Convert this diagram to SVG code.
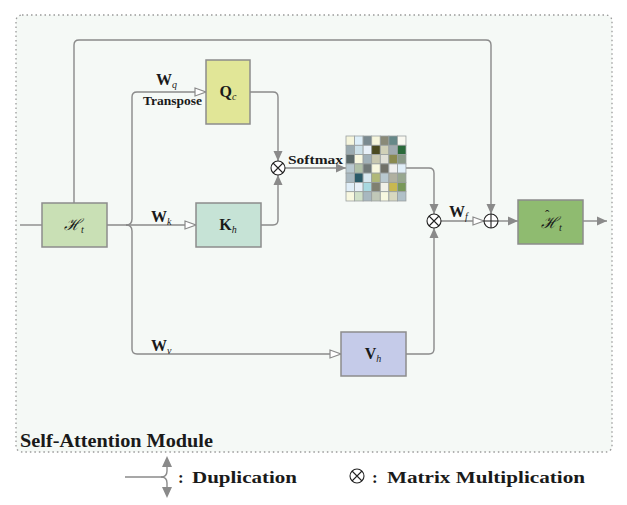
<svg xmlns="http://www.w3.org/2000/svg" width="627" height="505" viewBox="0 0 627 505">
<style>
.box{stroke:#8c8c8c;stroke-width:1.5}
.ln{fill:none;stroke:#8a8a8a;stroke-width:1.4}
.t{font-family:"Liberation Serif","DejaVu Serif",serif;fill:#1a1a1a}
.b{font-weight:bold}
.i{font-style:italic;font-weight:normal}
.cell{stroke:#9aa0a0;stroke-width:0.8}
</style>
<defs>
<marker id="fa" markerUnits="userSpaceOnUse" markerWidth="12" markerHeight="10" refX="10" refY="5" orient="auto">
<path d="M0,0.5 L10,5 L0,9.5 Z" fill="#8a8a8a"/>
</marker>
<marker id="oa" markerUnits="userSpaceOnUse" markerWidth="14" markerHeight="10" refX="12" refY="5" orient="auto">
<path d="M1,1 L12,5 L1,9 Z" fill="#fff" stroke="#8a8a8a" stroke-width="1.2"/>
</marker>
</defs>
<rect x="16" y="15" width="596" height="437" rx="6" fill="#f5f9f6" stroke="#9a9a9a" stroke-width="1.3" stroke-dasharray="1.5,3"/>
<text class="t b" x="20" y="447" font-size="19" textLength="193" lengthAdjust="spacingAndGlyphs">Self-Attention Module</text>

<g id="connectors">
<path class="ln" d="M20,225 H42"/>
<path class="ln" d="M107,225 H196" marker-end="url(#oa)"/>
<path class="ln" d="M126,225 Q132,225 132,219 V97 Q132,92 137,92 H206" marker-end="url(#oa)"/>
<path class="ln" d="M126,225 Q132,225 132,231 V349 Q132,354 137,354 H341" marker-end="url(#oa)"/>
<path class="ln" d="M250,92 H273 Q278,92 278,97 V161" marker-end="url(#fa)"/>
<path class="ln" d="M261,225 H273 Q278,225 278,220 V175" marker-end="url(#fa)"/>
<path class="ln" d="M285,168 H346" marker-end="url(#fa)"/>
<path class="ln" d="M406,168 H429 Q434,168 434,173 V214" marker-end="url(#fa)"/>
<path class="ln" d="M406,354 H429 Q434,354 434,349 V228" marker-end="url(#fa)"/>
<path class="ln" d="M441,221 H484" marker-end="url(#oa)"/>
<path class="ln" d="M74,203 V45 Q74,40 79,40 H486 Q491,40 491,45 V214" marker-end="url(#fa)"/>
<path class="ln" d="M498,221 H518" marker-end="url(#fa)"/>
<path class="ln" d="M583,221 H607" marker-end="url(#fa)"/>
</g>

<g id="labels">
<text class="t b" x="156" y="85" font-size="16">W<tspan class="i" font-size="10" dy="3">q</tspan></text>
<text class="t b" x="143" y="105" font-size="12" textLength="59" lengthAdjust="spacingAndGlyphs">Transpose</text>
<text class="t b" x="151" y="222" font-size="16">W<tspan class="i" font-size="10" dy="3">k</tspan></text>
<text class="t b" x="151" y="351" font-size="16">W<tspan class="i" font-size="10" dy="3">v</tspan></text>
<text class="t b" x="449" y="217" font-size="16">W<tspan class="i" font-size="10" dy="3">f</tspan></text>
<text class="t b" x="288" y="164" font-size="13" textLength="55" lengthAdjust="spacingAndGlyphs">Softmax</text>
</g>

<g id="Ht">
<rect class="box" x="42" y="203" width="65" height="44" fill="#c9e0b5"/>
<text class="t i" x="74" y="230" font-size="16" text-anchor="middle">ℋ<tspan font-size="10" dy="3">t</tspan></text>
</g>
<g id="Qc">
<rect class="box" x="206" y="60" width="44" height="64" fill="#e1e697"/>
<text class="t b" x="228" y="97" font-size="16" text-anchor="middle">Q<tspan class="i" font-size="10" dy="3">c</tspan></text>
</g>
<g id="Kh">
<rect class="box" x="196" y="203" width="65" height="44" fill="#c6e3d6"/>
<text class="t b" x="228" y="230" font-size="16" text-anchor="middle">K<tspan class="i" font-size="10" dy="3">h</tspan></text>
</g>
<g id="Vh">
<rect class="box" x="341" y="332" width="65" height="44" fill="#c5cbe9"/>
<text class="t b" x="373" y="359" font-size="16" text-anchor="middle">V<tspan class="i" font-size="10" dy="3">h</tspan></text>
</g>
<g id="Hhat">
<rect class="box" x="518" y="200" width="65" height="44" fill="#8fbb70"/>
<text class="t i" font-size="16"><tspan x="541" y="228">ℋ</tspan><tspan x="545" y="219" font-style="normal" font-size="13">ˆ</tspan><tspan x="559" y="231" font-size="10">t</tspan></text>
</g>

<g id="mul1">
<circle cx="278" cy="168" r="7" fill="#fff" stroke="#222" stroke-width="1.1"/>
<path d="M273,163 L283,173 M283,163 L273,173" stroke="#222" stroke-width="1.1"/>
</g>
<g id="mul2">
<circle cx="434" cy="221" r="7" fill="#fff" stroke="#222" stroke-width="1.1"/>
<path d="M429,216 L439,226 M439,216 L429,226" stroke="#222" stroke-width="1.1"/>
</g>
<g id="add">
<circle cx="491" cy="221" r="7" fill="#fff" stroke="#222" stroke-width="1.1"/>
<path d="M484,221 H498 M491,214 V228" stroke="#222" stroke-width="1.1"/>
</g>

<g id="matrix">
<rect x="346" y="136" width="60" height="65" fill="#9aa0a0"/>
<g class="cell">
<rect x="346.0" y="136.0" width="8.57" height="9.29" fill="#f5f5dc"/><rect x="354.6" y="136.0" width="8.57" height="9.29" fill="#ddeef8"/><rect x="363.1" y="136.0" width="8.57" height="9.29" fill="#7a8a90"/><rect x="371.7" y="136.0" width="8.57" height="9.29" fill="#f5f5dc"/><rect x="380.3" y="136.0" width="8.57" height="9.29" fill="#8a8a78"/><rect x="388.9" y="136.0" width="8.57" height="9.29" fill="#668888"/><rect x="397.4" y="136.0" width="8.57" height="9.29" fill="#f8f8f0"/>
<rect x="346.0" y="145.3" width="8.57" height="9.29" fill="#9aaab0"/><rect x="354.6" y="145.3" width="8.57" height="9.29" fill="#cce0e8"/><rect x="363.1" y="145.3" width="8.57" height="9.29" fill="#e8f0f8"/><rect x="371.7" y="145.3" width="8.57" height="9.29" fill="#4a4a20"/><rect x="380.3" y="145.3" width="8.57" height="9.29" fill="#d0d0b8"/><rect x="388.9" y="145.3" width="8.57" height="9.29" fill="#a0aab0"/><rect x="397.4" y="145.3" width="8.57" height="9.29" fill="#2a6a3a"/>
<rect x="346.0" y="154.6" width="8.57" height="9.29" fill="#5a6868"/><rect x="354.6" y="154.6" width="8.57" height="9.29" fill="#f8f8e0"/><rect x="363.1" y="154.6" width="8.57" height="9.29" fill="#a0b0b8"/><rect x="371.7" y="154.6" width="8.57" height="9.29" fill="#c8c8b0"/><rect x="380.3" y="154.6" width="8.57" height="9.29" fill="#e0e0d8"/><rect x="388.9" y="154.6" width="8.57" height="9.29" fill="#8a8a50"/><rect x="397.4" y="154.6" width="8.57" height="9.29" fill="#8a9a88"/>
<rect x="346.0" y="163.9" width="8.57" height="9.29" fill="#b8c8d0"/><rect x="354.6" y="163.9" width="8.57" height="9.29" fill="#b0c0a8"/><rect x="363.1" y="163.9" width="8.57" height="9.29" fill="#707878"/><rect x="371.7" y="163.9" width="8.57" height="9.29" fill="#f8f8e0"/><rect x="380.3" y="163.9" width="8.57" height="9.29" fill="#707068"/><rect x="388.9" y="163.9" width="8.57" height="9.29" fill="#f0f0f0"/><rect x="397.4" y="163.9" width="8.57" height="9.29" fill="#e0eef8"/>
<rect x="346.0" y="173.1" width="8.57" height="9.29" fill="#a8b8c0"/><rect x="354.6" y="173.1" width="8.57" height="9.29" fill="#2a5a68"/><rect x="363.1" y="173.1" width="8.57" height="9.29" fill="#d8e8f0"/><rect x="371.7" y="173.1" width="8.57" height="9.29" fill="#b0b878"/><rect x="380.3" y="173.1" width="8.57" height="9.29" fill="#b8c8d0"/><rect x="388.9" y="173.1" width="8.57" height="9.29" fill="#b0b0a0"/><rect x="397.4" y="173.1" width="8.57" height="9.29" fill="#98a890"/>
<rect x="346.0" y="182.4" width="8.57" height="9.29" fill="#e0eef8"/><rect x="354.6" y="182.4" width="8.57" height="9.29" fill="#e8f0f8"/><rect x="363.1" y="182.4" width="8.57" height="9.29" fill="#a8d8e0"/><rect x="371.7" y="182.4" width="8.57" height="9.29" fill="#808070"/><rect x="380.3" y="182.4" width="8.57" height="9.29" fill="#f0f0e8"/><rect x="388.9" y="182.4" width="8.57" height="9.29" fill="#c8b850"/><rect x="397.4" y="182.4" width="8.57" height="9.29" fill="#789858"/>
<rect x="346.0" y="191.7" width="8.57" height="9.29" fill="#f8f8e0"/><rect x="354.6" y="191.7" width="8.57" height="9.29" fill="#d0e0c8"/><rect x="363.1" y="191.7" width="8.57" height="9.29" fill="#a8b8c0"/><rect x="371.7" y="191.7" width="8.57" height="9.29" fill="#c0c8b8"/><rect x="380.3" y="191.7" width="8.57" height="9.29" fill="#f8f8e0"/><rect x="388.9" y="191.7" width="8.57" height="9.29" fill="#d8d8c0"/><rect x="397.4" y="191.7" width="8.57" height="9.29" fill="#b0c0c8"/>
</g>
</g>

<g id="legend">
<path class="ln" d="M125,477 H161 Q167,477 167,471 V466"/>
<path class="ln" d="M161,477 Q167,477 167,483 V488"/>
<path d="M162,467 L167,456 L172,467 Z M162,487 L167,498 L172,487 Z" fill="#8a8a8a"/>
<text class="t b" x="178" y="483" font-size="17">:</text>
<text class="t b" x="192" y="483" font-size="17" textLength="105" lengthAdjust="spacingAndGlyphs">Duplication</text>
<circle cx="357" cy="476" r="7" fill="#fff" stroke="#222" stroke-width="1.1"/>
<path d="M352,471 L362,481 M362,471 L352,481" stroke="#222" stroke-width="1.1"/>
<text class="t b" x="372" y="483" font-size="17">:</text>
<text class="t b" x="387" y="483" font-size="17" textLength="198" lengthAdjust="spacingAndGlyphs">Matrix Multiplication</text>
</g>
</svg>
